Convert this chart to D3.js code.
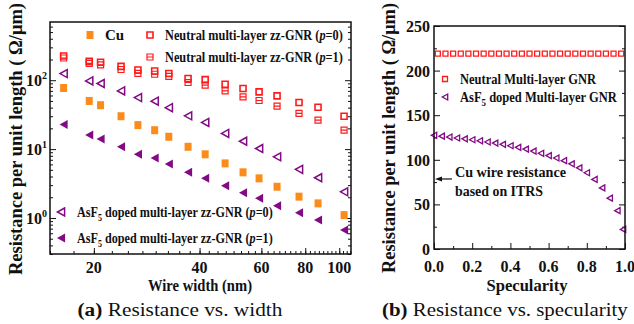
<!DOCTYPE html>
<meta charset="utf-8">
<style>
  body { margin: 0; background: #fff; }
  text { font-family: 'Liberation Serif', 'Times New Roman', serif; font-weight: bold; fill: #111; }
</style>
<div id="chart"></div>
<script src="https://d3js.org/d3.v7.min.js"></script>
<script>
const width = 634, height = 324;

// (a) resistance per unit length vs. wire width (nm)
const wireWidth  = [16.4, 19.4, 20.9, 23.9, 26.7, 29.8, 32.7, 37.1, 41.5, 47.3, 53.2, 59.1, 66.5, 76.8, 87, 103.2];
const cuRes      = [77, 50, 43.4, 30, 22.3, 18.8, 15.1, 10.8, 8.4, 6.2, 4.6, 3.76, 2.84, 2.04, 1.63, 1.1];
const neutralP0  = [225, 188, 182, 159, 141, 136, 125, 106, 102, 87.5, 75.9, 67.7, 59.2, 47.5, 40.6, 30];
const neutralP1  = [210, 175, 167, 143, 126, 122, 114, 92.6, 85, 70, 57.3, 50.8, 42, 32.9, 26.3, 18.8];
const asf5P0     = [125, 97.8, 89.6, 70, 56, 49.6, 40, 30.4, 24.4, 16.9, 13, 10.2, 7.73, 5.08, 3.84, 2.4];
const asf5P1     = [22.8, 16, 14, 10.8, 8.4, 7.4, 6.06, 4.6, 3.76, 2.94, 2.33, 1.93, 1.51, 1.19, 0.935, 0.67];
const xTicksA    = [20, 40, 60, 80, 100];
const yTicksA    = [1, 10, 100];

// (b) resistance per unit length vs. specularity
const specNeutral = [0.02, 0.06, 0.10, 0.14, 0.18, 0.22, 0.26, 0.30, 0.34, 0.38, 0.42, 0.46, 0.50,
                     0.54, 0.58, 0.62, 0.66, 0.70, 0.74, 0.78, 0.82, 0.86, 0.90, 0.94, 0.98];
const resNeutral  = [219, 219, 219, 219, 219, 219, 219, 219, 219, 219, 219, 219, 219,
                     219, 219, 219, 219, 219, 219, 219, 219, 219, 219, 219, 219];
const specAsf5    = [0, 0.04, 0.08, 0.12, 0.16, 0.20, 0.24, 0.28, 0.32, 0.36, 0.40, 0.44, 0.48,
                     0.52, 0.56, 0.60, 0.64, 0.68, 0.72, 0.76, 0.80, 0.84, 0.88, 0.92, 0.96, 1.0];
const resAsf5     = [127.5, 126.5, 125.5, 124.5, 123.5, 122.5, 121.3, 120, 118.7, 117.3, 115.8, 114, 112,
                     109.8, 107.3, 104.7, 102, 99, 95.5, 91, 85.5, 78, 68.5, 57, 43, 22];
const cuItrs      = 78.5;
const xTicksB     = [0, 0.2, 0.4, 0.6, 0.8, 1.0];
const yTicksB     = [0, 50, 100, 150, 200, 250];

const red = "#ff1a1a", orange = "#fb8c1b", purple = "#820a84";

const svg = d3.select("#chart").append("svg")
    .attr("width", width).attr("height", height);

const xA = d3.scaleLog().domain([15, 108]).range([50, 351]);
const yA = d3.scaleLog().domain([0.3, 700]).range([254, 22]);
const xB = d3.scaleLinear().domain([0, 1]).range([434, 625]);
const yB = d3.scaleLinear().domain([0, 250]).range([249, 26]);

// left pointing triangle
const triLeft = s => `M${s * 0.45},${-s / 2}L${-s * 0.45},0L${s * 0.45},${s / 2}Z`;

function ticks(g, axis, scale, values, size) {
    g.call(axis(scale).tickValues(values).tickSize(-size).tickSizeOuter(0).tickFormat(""))
     .call(g => g.select(".domain").remove())
     .selectAll("line").attr("stroke", "#111").attr("stroke-width", 1);
}

// text squeezed horizontally to a given width (scale instead of textLength)
function label(g, x, y, len, parts, size) {
    const grp = g.append("g");
    const t = grp.append("text").attr("x", 0).attr("y", 0).style("font-size", size || "15px");
    parts.forEach(p => {
        const s = t.append("tspan").text(p.t);
        if (p.i) s.style("font-style", "italic");
        if (p.sub) s.attr("dy", 4).style("font-size", "10px");
        if (p.up) s.attr("dy", -4);
    });
    const w = t.node().getComputedTextLength();
    grp.attr("transform", `translate(${x},${y}) scale(${len / w},1)`);
    return grp;
}

// ---------- panel (a) ----------
const minorYA = [];
[0.1, 1, 10, 100].forEach(d => { for (let k = 2; k <= 9; k++) minorYA.push(d * k); });
const minorXA = d3.range(15, 108, 2.5);
const inY = minorYA.filter(v => v > 0.3 && v < 700);

const gA = svg.append("g");
gA.append("g").attr("transform", "translate(50,0)").call(ticks, d3.axisLeft, yA, inY, 3);
gA.append("g").attr("transform", "translate(50,0)").call(ticks, d3.axisLeft, yA, yTicksA, 6);
gA.append("g").attr("transform", "translate(351,0)").call(ticks, d3.axisRight, yA, inY, 3);
gA.append("g").attr("transform", "translate(351,0)").call(ticks, d3.axisRight, yA, yTicksA, 6);
gA.append("g").attr("transform", "translate(0,254)").call(ticks, d3.axisBottom, xA, minorXA, 3);
gA.append("g").attr("transform", "translate(0,254)").call(ticks, d3.axisBottom, xA, xTicksA, 6);

gA.append("rect").attr("x", 50).attr("y", 22).attr("width", 301).attr("height", 232)
    .attr("fill", "none").attr("stroke", "#111").attr("stroke-width", 1.5);

gA.selectAll(".xlab").data(xTicksA).join("text")
    .attr("x", d => xA(d)).attr("y", 273).attr("text-anchor", "middle")
    .style("font-size", "16px").text(d => d);

const ylab = gA.selectAll(".ylab").data(yTicksA).join("text")
    .attr("x", 47).attr("y", d => yA(d) + 6).attr("text-anchor", "end")
    .style("font-size", "16px");
ylab.append("tspan").text("10");
ylab.append("tspan").attr("dy", -7).style("font-size", "10px").text(d => Math.round(Math.log10(d)));

const pts = (vals) => wireWidth.map((w, i) => [xA(w), yA(vals[i])]);

gA.append("g").selectAll("path").data(pts(neutralP0)).join("path")
    .attr("transform", d => `translate(${d})`).attr("d", "M-3,-3H3V3H-3Z")
    .attr("fill", "none").attr("stroke", red).attr("stroke-width", 1.6);
gA.append("g").selectAll("path").data(pts(neutralP1)).join("path")
    .attr("transform", d => `translate(${d})`).attr("d", "M-3,-3H3V3H-3ZM-3,0H3")
    .attr("fill", "none").attr("stroke", red).attr("stroke-width", 1.2);
gA.append("g").selectAll("path").data(pts(asf5P0)).join("path")
    .attr("transform", d => `translate(${d})`).attr("d", triLeft(8))
    .attr("fill", "none").attr("stroke", purple).attr("stroke-width", 1.5);
gA.append("g").selectAll("rect").data(pts(cuRes)).join("rect")
    .attr("x", d => d[0] - 3.5).attr("y", d => d[1] - 4).attr("width", 7).attr("height", 8)
    .attr("fill", orange);
gA.append("g").selectAll("path").data(pts(asf5P1)).join("path")
    .attr("transform", d => `translate(${d})`).attr("d", triLeft(9))
    .attr("fill", purple);

// legend (a)
gA.append("rect").attr("x", 86.5).attr("y", 31).attr("width", 7).attr("height", 8).attr("fill", orange);
gA.append("text").attr("x", 105).attr("y", 40).style("font-size", "15px").text("Cu");
gA.append("path").attr("transform", "translate(150,35)").attr("d", "M-3,-3H3V3H-3Z")
    .attr("fill", "none").attr("stroke", red).attr("stroke-width", 1.6);
gA.append("path").attr("transform", "translate(150,57)").attr("d", "M-3,-3H3V3H-3ZM-3,0H3")
    .attr("fill", "none").attr("stroke", red).attr("stroke-width", 1.2);
gA.append("path").attr("transform", "translate(61,212)").attr("d", triLeft(8))
    .attr("fill", "none").attr("stroke", purple).attr("stroke-width", 1.5);
gA.append("path").attr("transform", "translate(61,238)").attr("d", triLeft(9)).attr("fill", purple);

label(gA, 165, 40, 178, [{t: "Neutral multi-layer zz-GNR ("}, {t: "p", i: 1}, {t: "=0)"}]);
label(gA, 165, 62, 178, [{t: "Neutral multi-layer zz-GNR ("}, {t: "p", i: 1}, {t: "=1)"}]);
label(gA, 77, 217, 196, [{t: "AsF"}, {t: "5", sub: 1}, {t: " doped multi-layer zz-GNR (", up: 1}, {t: "p", i: 1}, {t: "=0)"}]);
label(gA, 77, 243, 196, [{t: "AsF"}, {t: "5", sub: 1}, {t: " doped multi-layer zz-GNR (", up: 1}, {t: "p", i: 1}, {t: "=1)"}]);

gA.append("text").attr("x", 200).attr("y", 291).attr("text-anchor", "middle")
    .style("font-size", "17px").attr("textLength", 104).attr("lengthAdjust", "spacingAndGlyphs")
    .text("Wire width (nm)");
gA.append("text").attr("transform", "translate(22,139) rotate(-90)").attr("text-anchor", "middle")
    .style("font-size", "18px").attr("textLength", 272).attr("lengthAdjust", "spacingAndGlyphs")
    .text("Resistance per unit length ( \u03a9/\u03bcm)");

// ---------- panel (b) ----------
const gB = svg.append("g");
const minorYB = [25, 75, 125, 175, 225];
const minorXB = [0.1, 0.3, 0.5, 0.7, 0.9];
gB.append("g").attr("transform", "translate(434,0)").call(ticks, d3.axisLeft, yB, minorYB, 3);
gB.append("g").attr("transform", "translate(434,0)").call(ticks, d3.axisLeft, yB, yTicksB, 6);
gB.append("g").attr("transform", "translate(625,0)").call(ticks, d3.axisRight, yB, minorYB, 3);
gB.append("g").attr("transform", "translate(625,0)").call(ticks, d3.axisRight, yB, yTicksB, 6);
gB.append("g").attr("transform", "translate(0,249)").call(ticks, d3.axisBottom, xB, minorXB, 3);
gB.append("g").attr("transform", "translate(0,249)").call(ticks, d3.axisBottom, xB, xTicksB, 6);

const dataB = gB.append("g");
dataB.selectAll(".sq").data(specNeutral).join("path")
    .attr("transform", (d, i) => `translate(${xB(d)},${yB(resNeutral[i])})`)
    .attr("d", "M-2.5,-2.5H2.5V2.5H-2.5Z")
    .attr("fill", "none").attr("stroke", red).attr("stroke-width", 1.3);
dataB.selectAll(".tr").data(specAsf5).join("path")
    .attr("transform", (d, i) => `translate(${xB(d) - (d === 1 ? 2 : 0)},${yB(resAsf5[i])})`)
    .attr("d", triLeft(6))
    .attr("fill", "none").attr("stroke", purple).attr("stroke-width", 1.3);

gB.append("rect").attr("x", 434).attr("y", 26).attr("width", 191).attr("height", 223)
    .attr("fill", "none").attr("stroke", "#111").attr("stroke-width", 1.5);

gB.selectAll(".xlab").data(xTicksB).join("text")
    .attr("x", d => xB(d)).attr("y", 272).attr("text-anchor", "middle")
    .style("font-size", "16px").text(d => d.toFixed(1));
gB.selectAll(".ylab").data(yTicksB).join("text")
    .attr("x", 430).attr("y", d => yB(d) + 6).attr("text-anchor", "end")
    .style("font-size", "16px").text(d => d);

// legend (b)
gB.append("path").attr("transform", "translate(445,79)").attr("d", "M-2.5,-2.5H2.5V2.5H-2.5Z")
    .attr("fill", "none").attr("stroke", red).attr("stroke-width", 1.3);
gB.append("path").attr("transform", "translate(445,97)").attr("d", triLeft(6))
    .attr("fill", "none").attr("stroke", purple).attr("stroke-width", 1.3);
gB.append("text").attr("x", 460).attr("y", 84).style("font-size", "14px")
    .attr("textLength", 136).attr("lengthAdjust", "spacingAndGlyphs").text("Neutral Multi-layer GNR");
label(gB, 460, 102, 157, [{t: "AsF"}, {t: "5", sub: 1}, {t: " doped Multi-layer GNR", up: 1}], "14px");

// Cu ITRS annotation
const yCu = yB(cuItrs);
gB.append("line").attr("x1", 452).attr("x2", 440).attr("y1", yCu).attr("y2", yCu)
    .attr("stroke", "#111").attr("stroke-width", 1.2);
gB.append("path").attr("d", `M435,${yCu}L442,${yCu - 2.5}L442,${yCu + 2.5}Z`).attr("fill", "#111");
gB.append("text").attr("x", 455).attr("y", 177).style("font-size", "14px")
    .attr("textLength", 111).attr("lengthAdjust", "spacingAndGlyphs").text("Cu wire resistance");
gB.append("text").attr("x", 455).attr("y", 196).style("font-size", "14px")
    .attr("textLength", 88).attr("lengthAdjust", "spacingAndGlyphs").text("based on ITRS");

gB.append("text").attr("x", 527).attr("y", 291).attr("text-anchor", "middle")
    .style("font-size", "17px").attr("textLength", 81).attr("lengthAdjust", "spacingAndGlyphs")
    .text("Specularity");
gB.append("text").attr("transform", "translate(395,138) rotate(-90)").attr("text-anchor", "middle")
    .style("font-size", "18px").attr("textLength", 270).attr("lengthAdjust", "spacingAndGlyphs")
    .text("Resistance per unit length ( \u03a9/\u03bcm)");

// captions
function caption(x, y, len, tag, rest) {
    const grp = svg.append("g");
    const t = grp.append("text").style("font-size", "19px");
    t.append("tspan").text(tag);
    t.append("tspan").style("font-weight", "normal").text(rest);
    const w = t.node().getComputedTextLength();
    grp.attr("transform", `translate(${x - len / 2},${y}) scale(${len / w},1)`);
}
caption(180, 316, 205, "(a)", " Resistance vs. width");
caption(505, 316, 246, "(b)", " Resistance vs. specularity");
</script>
